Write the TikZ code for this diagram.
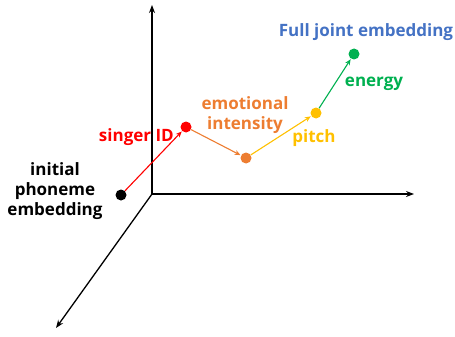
\documentclass[tikz,border=0pt]{standalone}
\usepackage{fontspec}
\setmainfont{Open Sans}
\usepackage{tikz}
\usetikzlibrary{arrows.meta,calc,positioning}
\definecolor{cred}{HTML}{FF0000}
\definecolor{corange}{HTML}{ED7D31}
\definecolor{cyellow}{HTML}{FFC000}
\definecolor{cgreen}{HTML}{00B050}
\definecolor{cblue}{HTML}{4472C4}
\tikzset{
  dot/.style={circle,fill=#1,inner sep=0pt,minimum size=11pt},
  lbl/.style={font=\bfseries\fontsize{17}{20}\selectfont,text=#1,align=center,inner sep=0pt},
  axis/.style={line width=1.3pt,-{Stealth[length=8pt,width=6pt]}},
  move/.style={line width=1.1pt,draw=#1,-{Stealth[length=6pt,width=5pt]},shorten >=0.5pt}
}
\begin{document}
\begin{tikzpicture}[x=1pt,y=-1pt]
\useasboundingbox (0,0) rectangle (455,337);
\coordinate (O) at (152,194); \coordinate (Y) at (152,5); \coordinate (X) at (414,194); \coordinate (Z) at (56,328);
\draw[axis] (O)--(Y); \draw[axis] (O)--(X); \draw[axis] (O)--(Z);
\node[dot=black] (p0) at (121,195) {};
\node[dot=cred] (p1) at (186,127) {};
\node[dot=corange] (p2) at (246,158) {};
\node[dot=cyellow] (p3) at (316,113) {};
\node[dot=cgreen] (p4) at (354,54) {};
\draw[move=cred] (p0)--(p1);
\draw[move=corange] (p1)--(p2);
\draw[move=cyellow] (p2)--(p3);
\draw[move=cgreen] (p3)--(p4);
\node[lbl=black] (t0) at (55,191) {initial\\phoneme\\embedding};
\node[lbl=cred,anchor=east] (t1) at (174,137) {singer ID};
\node[lbl=corange] (t2) at (245,115) {emotional\\intensity};
\node[lbl=cyellow] (t3) at (314,138) {pitch};
\node[lbl=cgreen] (t4) at (374,84) {energy};
\node[lbl=cblue] (t5) at (366,32) {Full joint embedding};
\end{tikzpicture}
\end{document}
